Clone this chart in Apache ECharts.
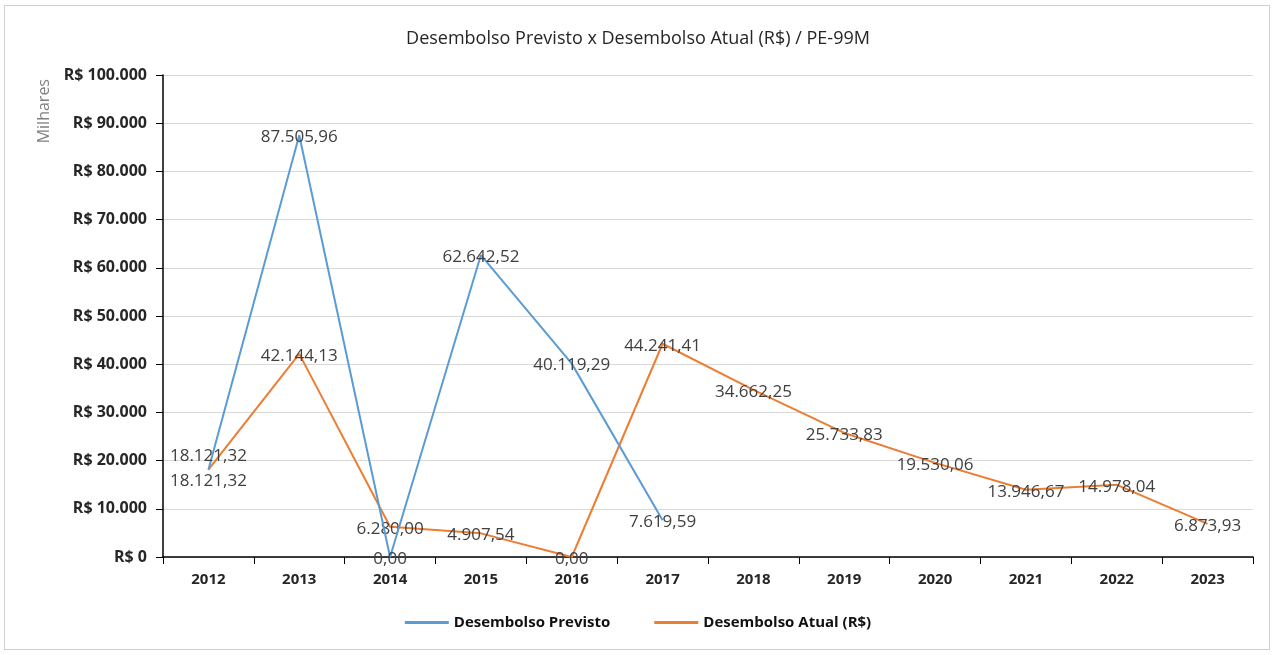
<!DOCTYPE html>
<html>
<head>
<meta charset="utf-8">
<script src="https://cdn.jsdelivr.net/npm/echarts@6/dist/echarts.min.js"></script>
<style>
    html, body { margin: 0; padding: 0; background: #fff; }
    #chart { width: 1276px; height: 655px; }
    .frame {
        position: absolute; left: 4px; top: 5px; width: 1266px; height: 645px;
        border: 1px solid #d0d0d0; box-sizing: border-box; pointer-events: none;
    }
</style>
</head>
<body>
<div id="chart"></div>
<div class="frame"></div>
<script>
const years = ["2012", "2013", "2014", "2015", "2016", "2017", "2018", "2019", "2020", "2021", "2022", "2023"]
const previsto = [18121.32, 87505.96, 0, 62642.52, 40119.29, 7619.59]
const atual = [18121.32, 42144.13, 6280.0, 4907.54, 0, 44241.41, 34662.25, 25733.83, 19530.06, 13946.67, 14978.04, 6873.93]
const yTicks = [0, 10000, 20000, 30000, 40000, 50000, 60000, 70000, 80000, 90000, 100000]

const fontFam = "'Open Sans', 'Noto Sans', sans-serif"

function br(v, dec) {
    let s = v.toFixed(dec)
    let parts = s.split(".")
    let intPart = parts[0].replace(/\B(?=(\d{3})+(?!\d))/g, ".")
    return dec > 0 ? intPart + "," + parts[1] : intPart
}

let chart = echarts.init(document.getElementById("chart"))

let labelBase = {
    show: true,
    position: "inside",
    color: "#404040",
    fontSize: 17,
    fontFamily: fontFam,
    offset: [0, 2],
    formatter: p => br(p.value, 2),
}

function seriesData(arr, offsets) {
    return arr.map((v, i) => {
        let o = offsets[i]
        return o ? { value: v, label: { offset: o } } : v
    })
}

let option = {
    animation: false,
    title: {
        text: "Desembolso Previsto x Desembolso Atual (R$) / PE-99M",
        left: "center",
        top: 25,
        textStyle: { fontFamily: fontFam, fontSize: 18, fontWeight: "normal", color: "#262626" },
    },
    legend: {
        bottom: 20,
        left: "center",
        itemWidth: 44,
        itemHeight: 3,
        itemGap: 44,
        icon: "rect",
        textStyle: { fontFamily: fontFam, fontSize: 15, fontWeight: "bold", color: "#111" },
        data: ["Desembolso Previsto", "Desembolso Atual (R$)"],
    },
    graphic: [{
        type: "text",
        left: 36,
        top: 79,
        rotation: Math.PI / 2,
        style: { text: "Milhares", fill: "#808080", font: "16px " + fontFam },
    }],
    grid: { left: 163, right: 23, top: 75, bottom: 98 },
    xAxis: {
        type: "category",
        data: years,
        boundaryGap: true,
        axisLine: { lineStyle: { color: "#000", width: 1.5 } },
        axisTick: { show: true, length: 7, lineStyle: { color: "#000" } },
        axisLabel: { color: "#262626", fontSize: 15, fontWeight: "bold", fontFamily: fontFam, margin: 15 },
    },
    yAxis: {
        type: "value",
        min: 0,
        max: 100000,
        interval: 10000,
        axisLine: { show: true, lineStyle: { color: "#000", width: 1.5 } },
        axisTick: { show: true, length: 7, lineStyle: { color: "#000" } },
        splitLine: { lineStyle: { color: "#d9d9d9" } },
        axisLabel: {
            color: "#262626", fontSize: 16, fontWeight: "bold", fontFamily: fontFam, margin: 16,
            formatter: v => yTicks.includes(v) ? "R$ " + br(v, 0) : "",
        },
    },
    series: [
        {
            name: "Desembolso Previsto",
            type: "line",
            data: seriesData(previsto, { 0: [0, -13] }),
            color: "#5b9bd5",
            lineStyle: { width: 2 },
            symbol: "circle",
            symbolSize: 0,
            showSymbol: true,
            showAllSymbol: true,
            label: labelBase,
            z: 3,
        },
        {
            name: "Desembolso Atual (R$)",
            type: "line",
            data: seriesData(atual, { 0: [0, 12] }),
            color: "#ed7d31",
            lineStyle: { width: 2 },
            symbol: "circle",
            symbolSize: 0,
            showSymbol: true,
            showAllSymbol: true,
            label: labelBase,
            z: 2,
        },
    ],
}

chart.setOption(option)
</script>
</body>
</html>
